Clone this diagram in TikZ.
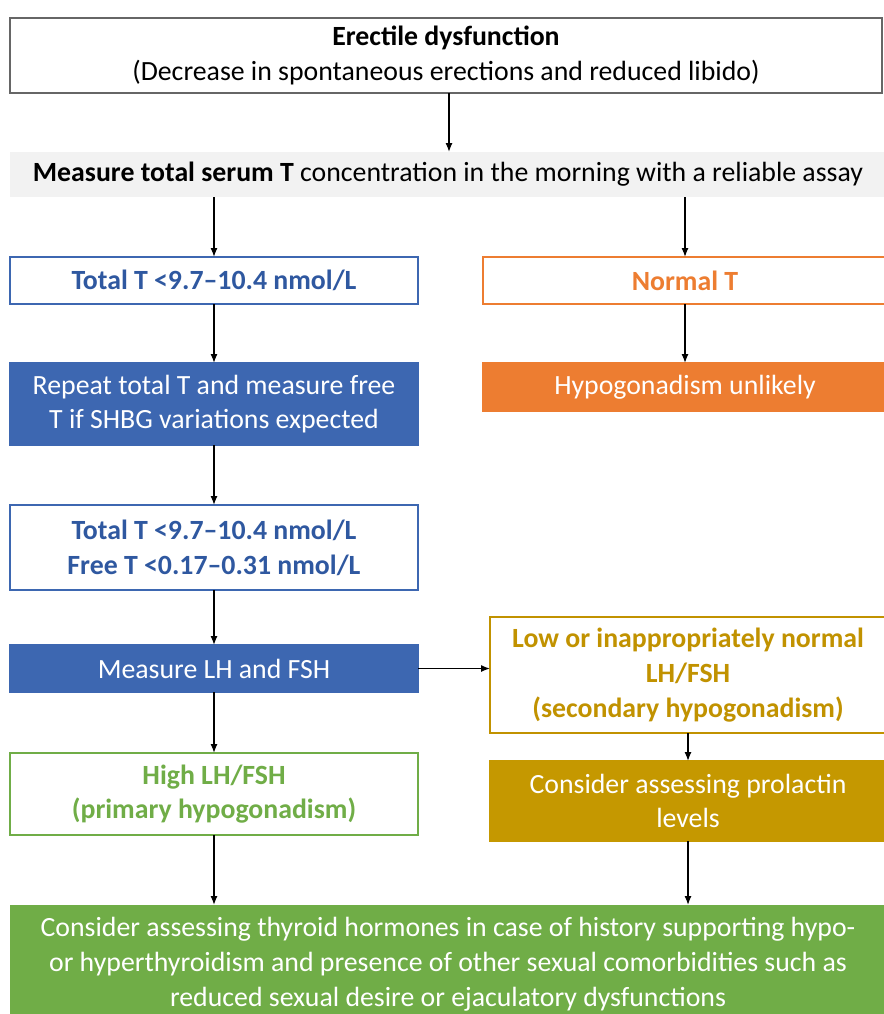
\documentclass[tikz,border=0pt]{standalone}
\usepackage{fontspec}
\setmainfont{Carlito}
\usetikzlibrary{arrows.meta}
\definecolor{bluefill}{RGB}{61,103,177}
\definecolor{bluetext}{RGB}{47,88,160}
\definecolor{orangec}{RGB}{237,125,49}
\definecolor{goldfill}{RGB}{197,152,0}
\definecolor{goldtext}{RGB}{193,146,0}
\definecolor{greenc}{RGB}{112,173,71}
\definecolor{grayband}{RGB}{242,242,242}
\begin{document}
\begin{tikzpicture}[x=1pt,y=-1pt,
  every node/.style={font=\fontsize{27.8}{34.8}\selectfont, align=center, inner sep=0pt, outer sep=0pt},
  box/.style={rectangle, minimum width=#1, line width=1.2pt},
  boldtext/.style={font=\fontsize{27.8}{34.8}\selectfont\bfseries},
  bluebox/.style={box=408, draw=bluefill, fill=white, text=bluetext, boldtext},
  bluefilled/.style={box=408, draw=bluefill, fill=bluefill, text=white},
  arr/.style={-{Latex[length=9pt,width=7pt]}, line width=1.3pt, black}
]
\useasboundingbox (0,0) rectangle (883,1014);
\fill[white] (0,0) rectangle (883,1014);

\node[box=872, minimum height=75, draw=black!60, fill=white] (top) at (446,55.5)
  {\textbf{Erectile dysfunction}\\(Decrease in spontaneous erections and reduced libido)};
\node[box=876, minimum height=45, fill=grayband] (band) at (448,174.5)
  {\textbf{Measure total serum T} concentration in the morning with a reliable assay};

\node[bluebox, minimum height=47] (tt) at (214,280.5) {Total T <9.7–10.4 nmol/L};
\node[box=404, minimum height=47, draw=orangec, fill=white, text=orangec, boldtext] (nt) at (685,280.5) {Normal T};

\node[bluefilled, minimum height=82] (rep) at (214,404) {Repeat total T and measure free\\T if SHBG variations expected};
\node[box=404, minimum height=48, draw=orangec, fill=orangec, text=white] (hu) at (685,387) {Hypogonadism unlikely};

\node[bluebox, minimum height=85] (tf) at (214,547.5) {Total T <9.7–10.4 nmol/L\\Free T <0.17–0.31 nmol/L};

\node[bluefilled, minimum height=47] (lh) at (214,668.5) {Measure LH and FSH};
\node[box=396, minimum height=116, draw=goldtext, fill=white, text=goldtext, boldtext] (low) at (688,675)
  {Low or inappropriately normal\\LH/FSH\\(secondary hypogonadism)};

\node[box=408, minimum height=82, draw=greenc, fill=white, text=greenc, boldtext] (high) at (214,794)
  {High LH/FSH\\(primary hypogonadism)};
\node[box=396, minimum height=80, draw=goldfill, fill=goldfill, text=white] (pro) at (688,801)
  {Consider assessing prolactin\\levels};

\node[box=876, minimum height=118, fill=greenc, text=white] (bot) at (448,964)
  {Consider assessing thyroid hormones in case of history supporting hypo-\\or hyperthyroidism and presence of other sexual comorbidities such as\\reduced sexual desire or ejaculatory dysfunctions};

\draw[arr] (top.south -| 449,0) -- (band.north -| 449,0);
\draw[arr] (band.south -| tt.north) -- (tt.north);
\draw[arr] (band.south -| nt.north) -- (nt.north);
\draw[arr] (tt) -- (rep);
\draw[arr] (nt) -- (hu);
\draw[arr] (rep) -- (tf);
\draw[arr] (tf) -- (lh);
\draw[arr] (lh.east) -- (lh.east -| low.west);
\draw[arr] (lh) -- (high);
\draw[arr] (low) -- (pro);
\draw[arr] (high.south) -- (bot.north -| high.south);
\draw[arr] (pro.south) -- (bot.north -| pro.south);
\end{tikzpicture}
\end{document}
